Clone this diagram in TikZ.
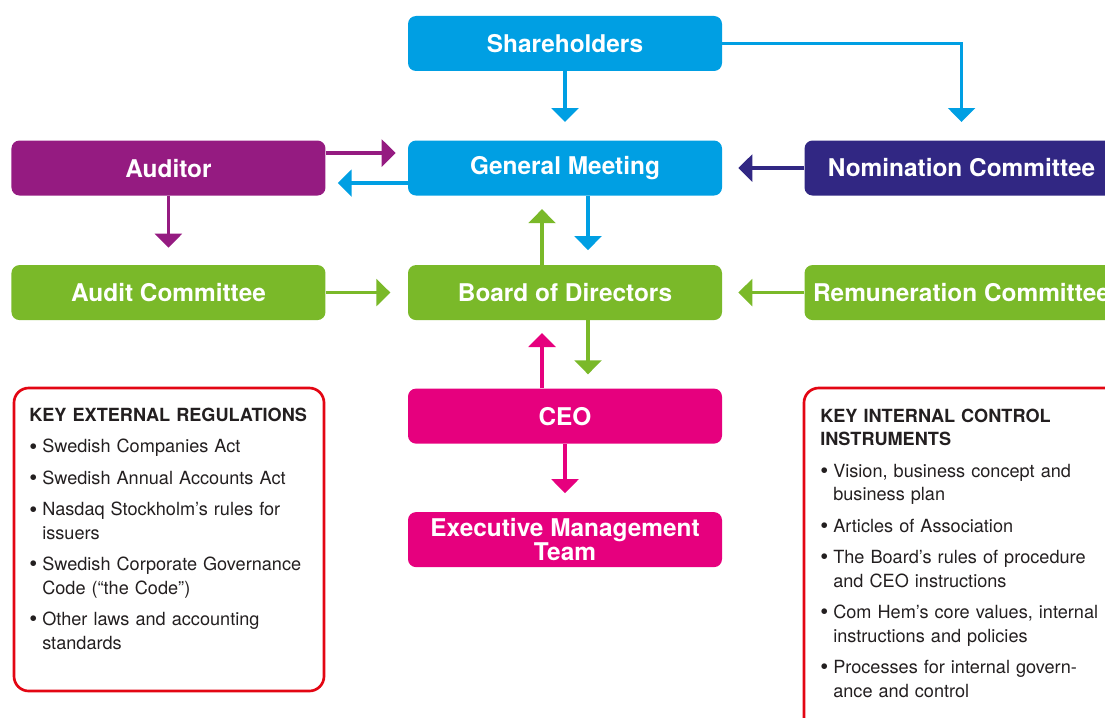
\documentclass[tikz,border=0pt]{standalone}
\usepackage{fontspec}
\setmainfont{TeX Gyre Heros}
\usetikzlibrary{arrows.meta, positioning}

\definecolor{chblue}{HTML}{009FE3}
\definecolor{chpurple}{HTML}{951B81}
\definecolor{chnavy}{HTML}{312783}
\definecolor{chgreen}{HTML}{7AB929}
\definecolor{chpink}{HTML}{E6007E}
\definecolor{chred}{HTML}{E30613}
\definecolor{chtext}{HTML}{231F20}

% one bullet of a key box
\newcommand{\keyitem}[1]{\par\vspace{6pt}\hangindent=9.75pt\hangafter=1\noindent
  \makebox[9.75pt][l]{\raisebox{-0.9pt}{\scalebox{1.25}{\textbullet}}}#1\par}

\tikzset{
  unit/.style={fill=#1, rounded corners=6pt, minimum width=235.5pt, minimum height=41.25pt,
    inner sep=0pt, text=white, align=center, font=\fontsize{18.3}{15.75}\selectfont\bfseries},
  flow/.style={draw=#1, line width=2.6pt, shorten >=12pt, -{Triangle[width=20pt,length=10.5pt]}},
  keybox/.style={draw=chred, line width=2pt, rounded corners=11pt},
  keytext/.style={anchor=north west, text width=250pt, align=left, inner sep=0pt,
    text=chtext, font=\fontsize{13.6}{17.6}\selectfont}
}

\begin{document}
\begin{tikzpicture}[x=0.75pt, y=-0.75pt, node distance=51.75pt and 61.5pt]
\useasboundingbox (0,0) rectangle (1105,717);
\clip (0,0) rectangle (1105,717);

% main column
\node[unit=chblue] (share) at (565,43.5) {Shareholders};
\node[unit=chblue, below=of share] (gm) {General Meeting};
\node[unit=chgreen, below=of gm] (board) {Board of Directors};
\node[unit=chpink, below=51pt of board] (ceo) {CEO};
\node[unit=chpink, below=51pt of ceo] (emt) {Executive Management\\Team};

% side boxes
\node[unit=chpurple, left=of gm] (auditor) {Auditor};
\node[unit=chnavy, right=of gm] (nom) {Nomination Committee};
\node[unit=chgreen, left=of board] (audcom) {Audit Committee};
\node[unit=chgreen, right=of board] (rem) {Remuneration Committee};

% connectors
\draw[flow=chblue, shorten >=13.7pt] (share) -- (gm);
\draw[flow=chblue, shorten >=13.7pt] (share.east) -| (nom.north);
\draw[flow=chnavy] (nom) -- (gm);
\draw[flow=chpurple, shorten >=9pt] ([yshift=11.25pt]auditor.east) -- ([yshift=11.25pt]gm.west);
\draw[flow=chblue, shorten >=9pt] ([yshift=-11.25pt]gm.west) -- ([yshift=-11.25pt]auditor.east);
\draw[flow=chpurple, shorten >=12.8pt] (auditor) -- (audcom);
\draw[flow=chgreen, shorten >=13pt] (audcom) -- (board);
\draw[flow=chgreen] (rem) -- (board);
\draw[flow=chblue, shorten >=11pt] ([xshift=17.25pt]gm.south) -- ([xshift=17.25pt]board.north);
\draw[flow=chgreen, shorten >=10pt] ([xshift=-17.25pt]board.north) -- ([xshift=-17.25pt]gm.south);
\draw[flow=chgreen, shorten >=10.5pt] ([xshift=17.25pt]board.south) -- ([xshift=17.25pt]ceo.north);
\draw[flow=chpink, shorten >=9.5pt] ([xshift=-17.25pt]ceo.north) -- ([xshift=-17.25pt]board.south);
\draw[flow=chpink, shorten >=14pt] (ceo) -- (emt);

% key boxes
\draw[keybox] (14,388) rectangle (324,691);
\draw[keybox] (804,388) rectangle (1135,745);

\node[keytext] (extlist) at (29,407.7) {\noindent\textbf{KEY EXTERNAL REGULATIONS}
  \keyitem{Swedish Companies Act}
  \keyitem{Swedish Annual Accounts Act}
  \keyitem{Nasdaq Stockholm’s rules for\newline issuers}
  \keyitem{Swedish Corporate Governance\newline Code (“the Code”)}
  \keyitem{Other laws and accounting\newline standards}};

\node[keytext] (intlist) at (820,408.7) {\noindent\textbf{KEY INTERNAL CONTROL\newline INSTRUMENTS}
  \keyitem{Vision, business concept and\newline business plan}
  \keyitem{Articles of Association}
  \keyitem{The Board’s rules of procedure\newline and CEO instructions}
  \keyitem{Com Hem’s core values, internal\newline instructions and policies}
  \keyitem{Processes for internal govern-\newline ance and control}};
\end{tikzpicture}
\end{document}
